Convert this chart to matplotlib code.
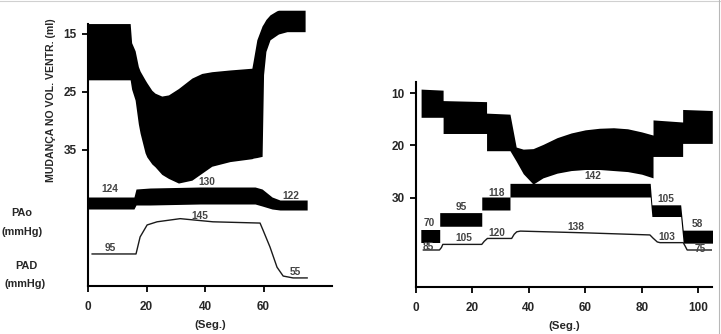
import matplotlib.pyplot as plt
from matplotlib.lines import Line2D

plt.rcParams['font.family'] = ['Liberation Sans', 'DejaVu Sans']
plt.rcParams['font.weight'] = 'bold'
plt.rcParams['axes.labelweight'] = 'bold'

# ---- left recording ------------------------------------------------------
# ventricular volume band (ml), upper / lower envelope
left_vol_t = [0.0, 14.4, 14.9, 16.1, 17.2, 17.8, 19.5, 20.1, 21.8, 22.9, 25.2, 27.5,
              30.9, 35.5, 38.9, 42.3, 48.5, 56.0, 56.5, 57.7, 59.5, 60.0, 60.8, 62.2,
              64.5, 65.1, 68.0, 74.2]
left_vol_top = [13.2, 13.2, 16.5, 17.9, 20.6, 21.4, 22.9, 23.4, 24.7, 25.2, 25.7, 25.5,
                24.4, 22.6, 21.8, 21.5, 21.2, 20.9, 19.5, 16.0, 13.6, 13.2, 12.5, 11.7,
                11.0, 10.9, 10.9, 10.9]
left_vol_bot = [22.9, 22.9, 24.5, 26.4, 30.5, 32.1, 35.5, 36.2, 37.4, 37.9, 39.2, 39.9,
                40.7, 40.2, 39.0, 37.8, 37.0, 36.5, 36.4, 36.3, 36.1, 22.0, 18.0, 16.0,
                15.2, 15.0, 14.6, 14.6]

# aortic pressure band (mmHg)
left_pao_t = [0.0, 15.7, 16.4, 21.2, 38.3, 57.1, 59.5, 62.9, 65.6, 74.9]
left_pao_top = [129, 129, 137, 138, 139, 139, 137, 129, 126, 126]
left_pao_bot = [117, 117, 121, 121, 122, 122, 120, 117, 116, 116]

# PAD trace (mmHg)
left_pad_t = [1.4, 16.4, 17.8, 20.2, 23.6, 31.5, 42.7, 58.8, 59.8, 62.2, 64.6, 66.7, 70.1, 74.9]
left_pad = [95, 95, 122, 141, 146, 151, 146, 144, 133, 106, 74, 60, 57, 57]

# ---- right recording -----------------------------------------------------
right_vol_t = [1.8, 9.6, 9.6, 25.0, 25.0, 33.3, 35.5, 38.0, 41.5, 45, 50, 55, 60, 65,
               70, 75, 80, 84.0, 84.0, 94.5, 94.5, 105.0]
right_vol_top = [9.2, 9.4, 11.4, 11.6, 13.8, 14.0, 20.3, 20.7, 20.6, 19.8, 18.5, 17.6,
                 17.0, 16.7, 16.6, 16.8, 17.4, 18.0, 15.1, 15.5, 13.1, 13.3]
right_vol_bot = [14.6, 14.6, 17.7, 17.7, 21.0, 21.0, 23.0, 25.4, 27.4, 26.2, 25.3, 24.8,
                 24.6, 24.6, 24.8, 25.0, 25.5, 26.2, 22.1, 22.1, 19.6, 19.6]

right_pao_t = [1.7, 8.4, 8.4, 23.3, 23.3, 33.3, 33.3, 83.0, 83.6, 93.8, 94.7, 105.3]
right_pao_top = [80, 80, 106, 106, 130, 130, 151, 151, 118, 118, 79, 79]
right_pao_bot = [60, 60, 85, 85, 110, 110, 130, 130, 100, 100, 59, 59]

right_pad_t = [2.6, 8.3, 9.0, 9.5, 23.3, 24.2, 25.3, 33.9, 34.8, 35.7, 37.0, 60.0,
               82.9, 84.0, 85.5, 86.5, 94.7, 95.4, 96.1, 105.3]
right_pad = [85, 85, 92, 101, 101, 110, 118, 118, 130, 137, 139, 134,
             128, 119, 108, 106, 106, 96, 85, 85]

TXT = '#262626'
NUM = '#444444'

fig = plt.figure(figsize=(7.21, 3.34), dpi=100)


def style(ax, yticks):
    for s in ['top', 'right']:
        ax.spines[s].set_visible(False)
    for s in ['left', 'bottom']:
        ax.spines[s].set_linewidth(1.5)
    ax.set_yticks(yticks)
    ax.tick_params(direction='out', length=4, width=1.3, labelsize=8.5,
                   labelcolor=TXT, pad=4)
    ax.tick_params(axis='x', pad=7)
    ax.set_xlabel('(Seg.)', fontsize=8.2, color=TXT, fontweight='bold', labelpad=5)


def overlay(ax, ylim):
    tw = ax.twinx()
    tw.set_ylim(*ylim)
    tw.axis('off')
    return tw


# left panel
ax1 = fig.add_axes([0.1221, 0.1437, 0.3384, 0.8323])
ax1.set_xlim(0, 83.4)
ax1.set_ylim(58.45, 10.52)
style(ax1, [15, 25, 35])
ax1.set_xticks([0, 20, 40, 60])
ax1.spines['left'].set_bounds(13.3, 58.45)
ax1.fill_between(left_vol_t, left_vol_top, left_vol_bot, color='black', lw=0)
ax1.set_ylabel('MUDANÇA NO VOL. VENTR. (ml)', fontsize=7.6, color=TXT, fontweight='bold')
ax1.yaxis.set_label_coords(-0.13, 0.667)

pao1 = overlay(ax1, (40, 318))
pao1.fill_between(left_pao_t, left_pao_top, left_pao_bot, color='black', lw=0)
pad1 = overlay(ax1, (44.2, 485))
pad1.plot(left_pad_t, left_pad, color='#1a1a1a', lw=1.0)

for txt, x, y in [('124', 7.5, 137), ('130', 40.7, 144), ('122', 69.4, 130)]:
    pao1.text(x, y, txt, ha='center', va='center', fontsize=7.3, color=NUM)
for txt, x, y in [('145', 38.3, 155), ('95', 7.5, 104.5), ('55', 70.8, 66.4)]:
    pad1.text(x, y, txt, ha='center', va='center', fontsize=7.3, color=NUM)

# right panel
ax2 = fig.add_axes([0.577, 0.1416, 0.4105, 0.6138])
ax2.set_xlim(0, 104.9)
ax2.set_ylim(47.05, 7.78)
style(ax2, [10, 20, 30])
ax2.set_xticks([0, 20, 40, 60, 80, 100])
ax2.fill_between(right_vol_t, right_vol_top, right_vol_bot, color='black', lw=0)

pao2 = overlay(ax2, (-8, 307.4))
pao2.fill_between(right_pao_t, right_pao_top, right_pao_bot, color='black', lw=0)
pad2 = overlay(ax2, (-19.9, 565.9))
pad2.plot(right_pad_t, right_pad, color='#1a1a1a', lw=1.0)

for txt, x, y in [('70', 4.6, 89.5), ('95', 16.2, 114), ('118', 28.6, 136.6),
                  ('142', 62.8, 162.3), ('105', 88.6, 126.9), ('58', 99.8, 88)]:
    pao2.text(x, y, txt, ha='center', va='center', fontsize=7.3, color=NUM)
for txt, x, y in [('85', 4.4, 92.7), ('105', 16.8, 118.4), ('120', 28.8, 132.7),
                  ('138', 56.7, 149.9), ('103', 88.8, 123), ('75', 100.8, 87)]:
    pad2.text(x, y, txt, ha='center', va='center', fontsize=7.3, color=NUM)

# channel labels
for txt, x, y in [('PAo', 22, 213), ('(mmHg)', 22, 232), ('PAD', 26, 266), ('(mmHg)', 25, 284)]:
    fig.text(x / 721, 1 - y / 334, txt, ha='center', va='center', fontsize=7.8, color=TXT)

# faint page frame
fig.add_artist(Line2D([0, 1], [0.997, 0.997], color='#d0d0d0', lw=0.8))
fig.add_artist(Line2D([0.9975, 0.9975], [0, 1], color='#b8b8b8', lw=0.8))

fig.savefig('out.png', dpi=100)
